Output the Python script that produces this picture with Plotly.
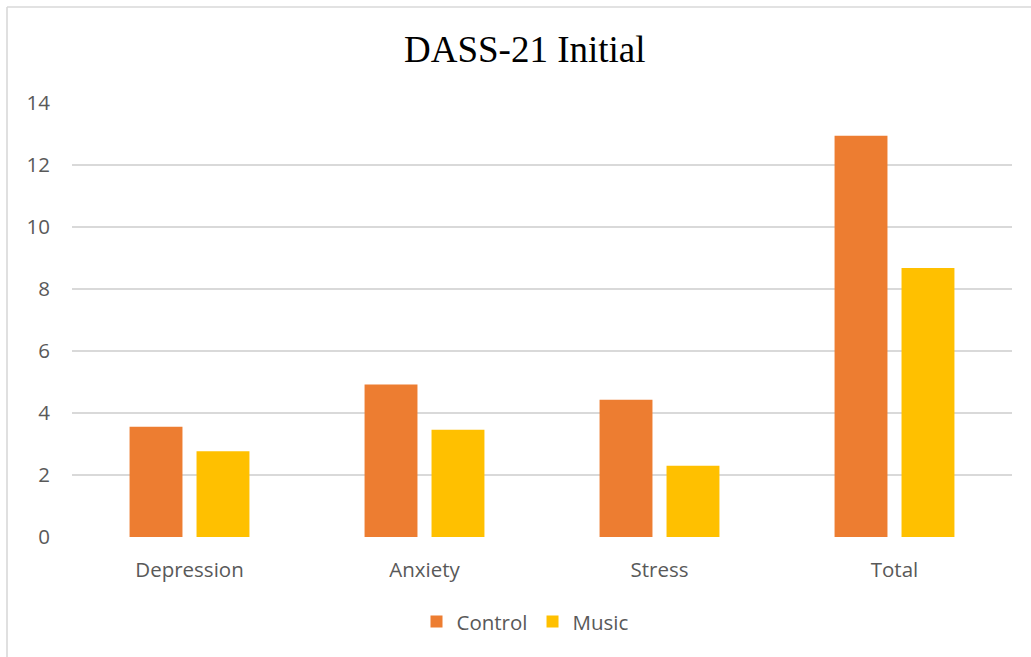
import plotly.graph_objects as go

# DASS-21 initial scores by group
categories = ["Depression", "Anxiety", "Stress", "Total"]
control_scores = [3.56, 4.92, 4.43, 12.94]
music_scores = [2.77, 3.46, 2.30, 8.68]
y_ticks = [0, 2, 4, 6, 8, 10, 12, 14]

CONTROL_COLOR = "#ED7D31"
MUSIC_COLOR = "#FFC000"
TEXT_GRAY = "#595959"
GRID_GRAY = "#D9D9D9"

W, H = 1031, 657
L, R, T, B = 72, 19, 103, 120
plot_w = W - L - R
plot_h = H - T - B


def px_x(px):
    return (px - L) / plot_w


def px_y(py):
    return (H - B - py) / plot_h


fig = go.Figure()
fig.add_trace(go.Bar(name="Control", x=categories, y=control_scores,
                     marker=dict(color=CONTROL_COLOR, line=dict(width=0))))
fig.add_trace(go.Bar(name="Music", x=categories, y=music_scores,
                     marker=dict(color=MUSIC_COLOR, line=dict(width=0))))

# outer chart frame (left and top edges)
frame = dict(type="line", xref="paper", yref="paper",
             line=dict(color=GRID_GRAY, width=1.6), layer="below")
fig.add_shape(x0=px_x(7), x1=px_x(1045), y0=px_y(7), y1=px_y(7), **frame)
fig.add_shape(x0=px_x(7), x1=px_x(7), y0=px_y(7), y1=px_y(670), **frame)

fig.update_layout(
    width=W, height=H,
    margin=dict(l=L, r=R, t=T, b=B),
    paper_bgcolor="white", plot_bgcolor="white",
    barmode="group", bargap=0.43, bargroupgap=0.21,
    title=dict(text="DASS-21 Initial", x=0.509, xref="container", xanchor="center",
               y=1 - 49 / H, yref="container", yanchor="middle",
               font=dict(family="Liberation Serif", size=37, color="black")),
    font=dict(family="Open Sans", size=20.5, color=TEXT_GRAY),
    legend=dict(orientation="h", x=px_x(525), xanchor="center",
                y=px_y(621.7), yanchor="middle",
                font=dict(family="Open Sans", size=20.5, color=TEXT_GRAY),
                itemsizing="constant", traceorder="normal"),
    xaxis=dict(showgrid=False, showline=False, zeroline=False, ticks="",
               tickfont=dict(family="Open Sans", size=20.5, color=TEXT_GRAY),
               ticklabelstandoff=18),
    yaxis=dict(range=[0, 14], tickvals=y_ticks, showgrid=True, gridcolor=GRID_GRAY,
               gridwidth=1.6, zeroline=False, showline=False, ticks="",
               tickfont=dict(family="Open Sans", size=20.5, color=TEXT_GRAY),
               ticklabelstandoff=21),
)

fig.write_html("out.html")
